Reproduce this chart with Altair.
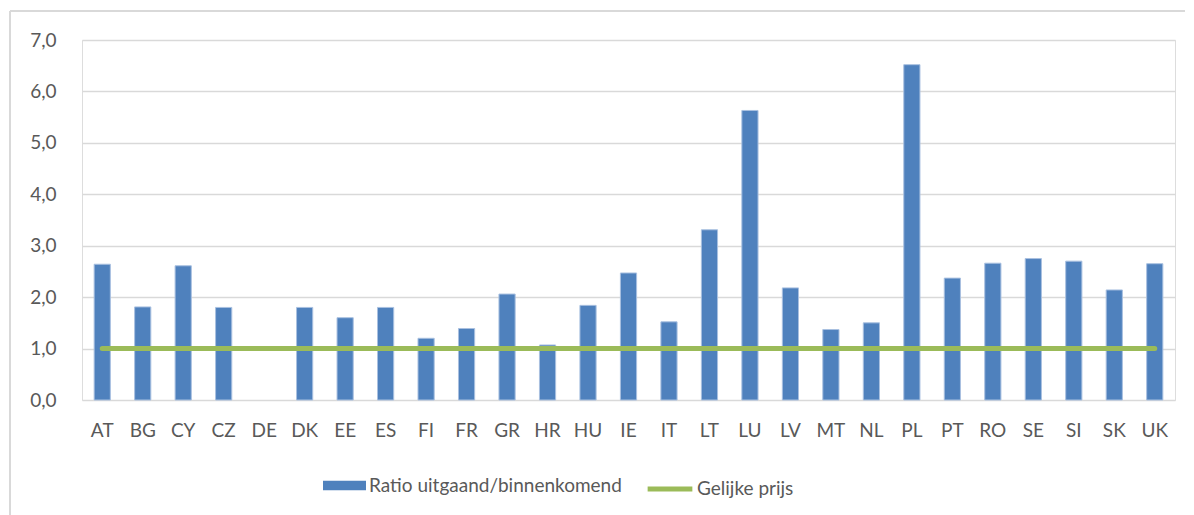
import altair as alt
import pandas as pd

countries = ["AT", "BG", "CY", "CZ", "DE", "DK", "EE", "ES", "FI", "FR", "GR", "HR", "HU", "IE",
             "IT", "LT", "LU", "LV", "MT", "NL", "PL", "PT", "RO", "SE", "SI", "SK", "UK"]
ratio = [2.64, 1.81, 2.61, 1.80, None, 1.80, 1.60, 1.80, 1.20, 1.39, 2.06, 1.07, 1.84, 2.47,
         1.52, 3.31, 5.63, 2.18, 1.37, 1.50, 6.52, 2.37, 2.66, 2.75, 2.70, 2.14, 2.65]
equal_price = [1.0] * len(countries)
series_names = ["Ratio uitgaand/binnenkomend", "Gelijke prijs"]

df = pd.DataFrame({"land": countries, "ratio": ratio, "gelijk": equal_price,
                   "s_bar": series_names[0], "s_line": series_names[1]})

FONT = "Lato"
TXT = "#595959"
FS = 19
label_expr = "replace(format(datum.value, '.1f'), '.', ',')"

x = alt.X("land:N", sort=countries, title=None,
          scale=alt.Scale(paddingInner=0.6, paddingOuter=0.3),
          axis=alt.Axis(labelAngle=0, ticks=False, domain=False, grid=False, labelPadding=21,
                        labelFontSize=FS, labelColor=TXT, labelFont=FONT))
y = alt.Y("ratio:Q", title=None,
          scale=alt.Scale(domain=[0, 7], nice=False),
          axis=alt.Axis(values=[0, 1, 2, 3, 4, 5, 6, 7], labelExpr=label_expr, ticks=False,
                        domain=False, gridColor="#d9d9d9", gridWidth=1.5, labelPadding=26,
                        labelFontSize=FS, labelColor=TXT, labelFont=FONT))

# decorative chart frame edges (top and left, light gray)
frame_top = alt.Chart(df).mark_rule(stroke="#d9d9d9", strokeWidth=1.5).encode(
    x=alt.value(-72), x2=alt.value(1200), y=alt.value(-29)
)
frame_left = alt.Chart(df).mark_rule(stroke="#d9d9d9", strokeWidth=1.5).encode(
    x=alt.value(-72), y=alt.value(-29), y2=alt.value(540)
)

bars = alt.Chart(df).mark_bar(stroke="#a9c0e0", strokeWidth=1).encode(
    x=x, y=y,
    fill=alt.Fill("s_bar:N",
                  scale=alt.Scale(domain=[series_names[0]], range=["#4F81BD"]),
                  legend=alt.Legend(title=None, orient="none", legendX=241, legendY=424,
                                    symbolType="M-1,-0.22H1V0.22H-1Z", symbolSize=1849,
                                    symbolStrokeWidth=0, symbolOpacity=1, labelFontSize=FS,
                                    labelColor=TXT, labelFont=FONT, labelOffset=3,
                                    labelLimit=500)),
)

line = alt.Chart(df).mark_line(strokeWidth=5, strokeCap="round").encode(
    x=alt.X("land:N", sort=countries),
    y=alt.Y("gelijk:Q"),
    stroke=alt.Stroke("s_line:N",
                      scale=alt.Scale(domain=[series_names[1]], range=["#9BBB59"]),
                      legend=alt.Legend(title=None, orient="none", legendX=563, legendY=424,
                                        symbolSize=2000, symbolStrokeWidth=5,
                                        labelFontSize=FS, labelColor=TXT, labelFont=FONT,
                                        labelOffset=2, labelLimit=500)),
)

chart = alt.layer(frame_top, frame_left, bars, line).properties(
    width=1093, height=360,
    autosize=alt.AutoSizeParams(type="none"),
    padding={"left": 74, "top": 32, "right": 10, "bottom": 125},
).resolve_scale(fill="independent", stroke="independent").configure_view(
    stroke=None).configure(background="white")

chart.save("out.html", embed_options={"renderer": "svg", "actions": False})
